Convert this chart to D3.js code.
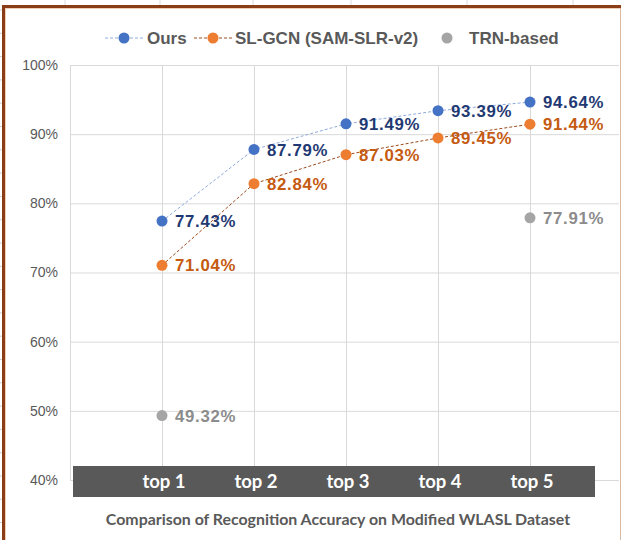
<!DOCTYPE html>
<html><head><meta charset="utf-8">
<script src="https://cdn.jsdelivr.net/npm/d3@7"></script>
<style>body{margin:0;background:#fff}svg{display:block}</style>
</head><body>
<script>
const categories = ["top 1","top 2","top 3","top 4","top 5"];
const ours = [77.43, 87.79, 91.49, 93.39, 94.64];
const slgcn = [71.04, 82.84, 87.03, 89.45, 91.44];
const trnCats = ["top 1","top 5"];
const trn = [49.32, 77.91];
const yTicks = [40,50,60,70,80,90,100];
const seriesNames = ["Ours","SL-GCN (SAM-SLR-v2)","TRN-based"];
const title = "Comparison of Recognition Accuracy on Modified WLASL Dataset";

const W = 621, H = 540;
const svg = d3.select("body").append("svg").attr("width", W).attr("height", H);

// spreadsheet remnants outside the frame
const bgTicksX = [65,160,253,351,467,573];
svg.selectAll(".bgx").data(bgTicksX).enter().append("line")
  .attr("x1", d=>d).attr("x2", d=>d).attr("y1",0).attr("y2",5)
  .attr("stroke","#dcdcdc").attr("stroke-width",1);
const bgTicksY = d3.range(10, 540, 23.3);
svg.selectAll(".bgy").data(bgTicksY).enter().append("line")
  .attr("x1",0).attr("x2",2).attr("y1",d=>d).attr("y2",d=>d)
  .attr("stroke","#cfcfcf").attr("stroke-width",1);

const x = d3.scalePoint().domain(categories).range([162, 530]);
const y = d3.scaleLinear().domain([40,100]).range([480, 65]);
const plotL = 70, plotR = 619;

// gridlines
svg.selectAll(".hg").data(yTicks).enter().append("line")
  .attr("x1", plotL).attr("x2", plotR).attr("y1", d=>y(d)+0.5).attr("y2", d=>y(d)+0.5)
  .attr("stroke","#d9d9d9").attr("stroke-width",1);
svg.selectAll(".vg").data(categories).enter().append("line")
  .attr("x1", d=>x(d)+0.5).attr("x2", d=>x(d)+0.5).attr("y1", y(100)).attr("y2", y(40))
  .attr("stroke","#d9d9d9").attr("stroke-width",1);
svg.append("line").attr("x1",plotL+0.5).attr("x2",plotL+0.5).attr("y1",y(100)).attr("y2",y(40))
  .attr("stroke","#d9d9d9").attr("stroke-width",1);

// y labels
svg.selectAll(".yl").data(yTicks).enter().append("text")
  .attr("x", 58).attr("y", d=>y(d)).attr("dy","0.35em")
  .attr("text-anchor","end")
  .style("font-family","'Liberation Sans', Arial, sans-serif").style("font-size","14px")
  .attr("fill","#595959").text(d=>d+"%");

// category band
svg.append("rect").attr("x",73).attr("y",466).attr("width",522).attr("height",31).attr("fill","#595959");
svg.selectAll(".xl").data(categories).enter().append("text")
  .attr("x", d=>x(d)+2).attr("y", 482).attr("dy","0.35em").attr("text-anchor","middle")
  .style("font-family","Lato, sans-serif").style("font-weight","bold").style("font-size","18.5px")
  .attr("fill","#ffffff").text(d=>d);

// title
svg.append("text").attr("x",338).attr("y",519).attr("dy","0.35em").attr("text-anchor","middle")
  .style("font-family","Lato, sans-serif").style("font-weight","bold").style("font-size","15.9px")
  .attr("fill","#595959").text(title);

const line = d3.line().x(d=>x(d.c)).y(d=>y(d.v));
const s1 = categories.map((c,i)=>({c, v: ours[i]}));
const s2 = categories.map((c,i)=>({c, v: slgcn[i]}));
const s3 = trnCats.map((c,i)=>({c, v: trn[i]}));

svg.append("path").datum(s1).attr("d", line).attr("fill","none")
  .attr("stroke","#8faadc").attr("stroke-width",1).attr("stroke-dasharray","3,2");
svg.append("path").datum(s2).attr("d", line).attr("fill","none")
  .attr("stroke","#9c4a1e").attr("stroke-width",1).attr("stroke-dasharray","3,2");

function drawPoints(data, fill, labelColor){
  svg.append("g").selectAll("circle").data(data).enter().append("circle")
    .attr("cx", d=>x(d.c)).attr("cy", d=>y(d.v)).attr("r",5.5).attr("fill", fill);
  svg.append("g").selectAll("text").data(data).enter().append("text")
    .attr("x", d=>x(d.c)+13).attr("y", d=>y(d.v)).attr("dy","0.36em")
    .style("font-family","'Liberation Sans', Arial, sans-serif").style("font-weight","bold")
    .style("font-size","16.8px").style("letter-spacing","0.7px")
    .attr("fill", labelColor).text(d=>d.v.toFixed(2)+"%");
}
drawPoints(s3, "#a5a5a5", "#8c8c8c");
drawPoints(s2, "#ed7d31", "#c55a11");
drawPoints(s1, "#4472c4", "#1f3a73");

// legend
const legY = 38;
const leg = [
  {name: seriesNames[0], cx:124, fill:"#4472c4", stroke:"#8faadc", tx:147},
  {name: seriesNames[1], cx:213, fill:"#ed7d31", stroke:"#9c4a1e", tx:235},
  {name: seriesNames[2], cx:447, fill:"#a5a5a5", stroke:null, tx:469}
];
leg.forEach(l=>{
  if(l.stroke) svg.append("line").attr("x1",l.cx-19).attr("x2",l.cx+19).attr("y1",legY).attr("y2",legY)
    .attr("stroke",l.stroke).attr("stroke-width",1).attr("stroke-dasharray","3,2");
  svg.append("circle").attr("cx",l.cx).attr("cy",legY).attr("r",5.5).attr("fill",l.fill);
  svg.append("text").attr("x",l.tx).attr("y",legY).attr("dy","0.36em")
    .style("font-family","'Liberation Sans', Arial, sans-serif").style("font-weight","bold").style("font-size","17px")
    .attr("fill","#595959").text(l.name);
});

// frame
svg.append("line").attr("x1",3.5).attr("x2",3.5).attr("y1",5).attr("y2",540).attr("stroke","#8a3d16").attr("stroke-width",3);
svg.append("line").attr("x1",2).attr("x2",621).attr("y1",6.5).attr("y2",6.5).attr("stroke","#8a3d16").attr("stroke-width",3);
svg.append("line").attr("x1",5.5).attr("x2",5.5).attr("y1",8).attr("y2",540).attr("stroke","#f0cdb5").attr("stroke-width",1);
svg.append("line").attr("x1",5).attr("x2",621).attr("y1",8.5).attr("y2",8.5).attr("stroke","#f0cdb5").attr("stroke-width",1);
svg.append("line").attr("x1",620.5).attr("x2",620.5).attr("y1",8).attr("y2",540).attr("stroke","#d9b8a3").attr("stroke-width",1);
</script>
</body></html>
